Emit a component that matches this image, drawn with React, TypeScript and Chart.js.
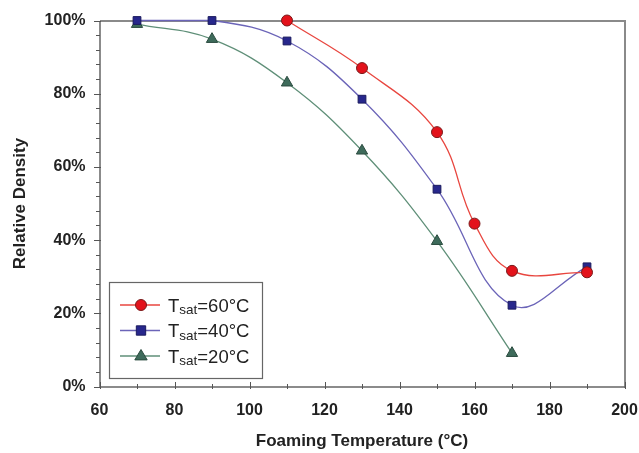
import React, { useEffect, useRef } from "react";
import { Chart, registerables } from "chart.js";

Chart.register(...registerables);

const temps60 = [110, 130, 150, 160, 170, 190];
const density60 = [100, 87, 69.5, 44.5, 31.6, 31.2];
const temps40 = [70, 90, 110, 130, 150, 170, 190];
const density40 = [100, 100, 94.4, 78.5, 53.9, 22.2, 32.7];
const temps20 = [70, 90, 110, 130, 150, 170];
const density20 = [99, 94.9, 83, 64.4, 39.7, 9.1];
const seriesLabels = ["60°C", "40°C", "20°C"];
const xTickValues = [60, 80, 100, 120, 140, 160, 180, 200];
const yTickValues = [0, 20, 40, 60, 80, 100];

const FONT = '"Liberation Sans", Arial, sans-serif';

const styles = [
  { line: "#e8463f", fill: "#e3121b", border: "#7a1a1a", shape: "circle", r: 5.5 },
  { line: "#6b64b8", fill: "#27278c", border: "#1a1a5e", shape: "rect", r: 5.5 },
  { line: "#5f8f78", fill: "#3e6b5b", border: "#2a4a3e", shape: "triangle", r: 6.5 },
];

function drawMarker(ctx: CanvasRenderingContext2D, shape: string, x: number, y: number, r: number, fill: string, border: string) {
  ctx.save();
  ctx.fillStyle = fill;
  ctx.strokeStyle = border;
  ctx.lineWidth = 1;
  ctx.beginPath();
  if (shape === "circle") {
    ctx.arc(x, y, r, 0, Math.PI * 2);
  } else if (shape === "rect") {
    ctx.rect(x - r * 0.85, y - r * 0.85, r * 1.7, r * 1.7);
  } else {
    ctx.moveTo(x, y - r);
    ctx.lineTo(x + r * 0.95, y + r * 0.6);
    ctx.lineTo(x - r * 0.95, y + r * 0.6);
    ctx.closePath();
  }
  ctx.fill();
  ctx.stroke();
  ctx.restore();
}

const framePlugin = {
  id: "frame",
  beforeDatasetsDraw(chart: any) {
    const { ctx, chartArea } = chart;
    const xs = chart.scales.x;
    const ys = chart.scales.y;
    const L = Math.round(chartArea.left);
    const R = Math.round(chartArea.right);
    const T = Math.round(chartArea.top);
    const B = Math.round(chartArea.bottom);
    ctx.save();
    ctx.lineWidth = 2;
    ctx.strokeStyle = "#8a8a8a";
    ctx.beginPath();
    ctx.moveTo(L, T);
    ctx.lineTo(R, T);
    ctx.moveTo(R, T - 1);
    ctx.lineTo(R, B + 1);
    ctx.stroke();
    ctx.strokeStyle = "#666";
    ctx.lineWidth = 1.5;
    ctx.beginPath();
    ctx.moveTo(L, T);
    ctx.lineTo(L, B);
    ctx.lineTo(R, B);
    ctx.stroke();
    ctx.lineWidth = 1;
    ctx.strokeStyle = "#555";
    ctx.beginPath();
    for (let v = 0; v <= 100; v += 4) {
      const y = Math.round(ys.getPixelForValue(v)) + 0.5;
      const major = v % 20 === 0;
      ctx.moveTo(L - (major ? 6 : 4), y);
      ctx.lineTo(L + (major ? 1 : 0), y);
    }
    for (let v = 60; v <= 200; v += 10) {
      const x = Math.round(xs.getPixelForValue(v)) + 0.5;
      const major = v % 20 === 0;
      ctx.moveTo(x, B + 2);
      ctx.lineTo(x, B - (major ? 5 : 3));
    }
    ctx.stroke();
    ctx.restore();
  },
  afterDraw(chart: any) {
    const { ctx } = chart;
    const left = 109.5, top = 282.5, w = 153, h = 96;
    ctx.save();
    ctx.fillStyle = "#fff";
    ctx.fillRect(left, top, w, h);
    ctx.strokeStyle = "#666";
    ctx.lineWidth = 1.2;
    ctx.strokeRect(left, top, w, h);
    const rows = [305, 330.5, 356];
    rows.forEach((ry, i) => {
      const s = styles[i];
      ctx.strokeStyle = s.line;
      ctx.lineWidth = 1.3;
      ctx.beginPath();
      ctx.moveTo(120, ry);
      ctx.lineTo(160, ry);
      ctx.stroke();
      drawMarker(ctx, s.shape, 141, ry, s.r, s.fill, s.border);
      ctx.fillStyle = "#222";
      ctx.textBaseline = "alphabetic";
      ctx.textAlign = "left";
      let x = 168;
      ctx.font = `18.5px ${FONT}`;
      ctx.fillText("T", x, ry + 6.5);
      x += ctx.measureText("T").width;
      ctx.font = `13.5px ${FONT}`;
      ctx.fillText("sat", x, ry + 9);
      x += ctx.measureText("sat").width;
      ctx.font = `18.5px ${FONT}`;
      ctx.fillText("=" + seriesLabels[i], x, ry + 6.5);
    });
    ctx.restore();
  },
};

function toPoints(xs: number[], ys: number[]) {
  return xs.map((x, i) => ({ x, y: ys[i] }));
}

export default function App() {
  const ref = useRef<HTMLCanvasElement | null>(null);
  useEffect(() => {
    if (!ref.current) return;
    const mk = (data: any[], i: number, label: string) => ({
      label,
      data,
      borderColor: styles[i].line,
      borderWidth: 1.3,
      backgroundColor: styles[i].fill,
      pointBackgroundColor: styles[i].fill,
      pointBorderColor: styles[i].border,
      pointBorderWidth: 1,
      pointStyle: styles[i].shape === "triangle" ? "triangle" : styles[i].shape === "rect" ? "rect" : "circle",
      pointRadius: styles[i].shape === "triangle" ? 6.5 : styles[i].shape === "rect" ? 5.5 : 5.5,
      tension: 0.4,
      fill: false,
      clip: false as any,
    });
    const chart = new Chart(ref.current, {
      type: "line",
      data: {
        datasets: [
          mk(toPoints(temps60, density60), 0, "Tsat=60°C"),
          mk(toPoints(temps40, density40), 1, "Tsat=40°C"),
          mk(toPoints(temps20, density20), 2, "Tsat=20°C"),
        ] as any,
      },
      options: {
        animation: false,
        responsive: false,
        maintainAspectRatio: false,
        layout: { padding: { top: 20.5, right: 14.5, left: 0, bottom: 0 } },
        plugins: { legend: { display: false }, tooltip: { enabled: false } },
        scales: {
          x: {
            type: "linear",
            min: 60,
            max: 200,
            grid: { display: false, drawTicks: false },
            border: { display: false },
            afterBuildTicks: (s: any) => {
              s.ticks = xTickValues.map((v) => ({ value: v }));
            },
            afterFit: (s: any) => {
              s.height = 66.5;
              s.paddingLeft = 0;
              s.paddingRight = 0;
            },
            ticks: {
              padding: 14,
              color: "#222",
              font: { family: FONT, size: 16, weight: "bold" },
              maxRotation: 0,
            },
            title: {
              display: true,
              text: "Foaming Temperature (°C)",
              color: "#222",
              font: { family: FONT, size: 17, weight: "bold" },
              padding: { top: 0, bottom: 1 },
            },
          },
          y: {
            type: "linear",
            min: 0,
            max: 100,
            grid: { display: false, drawTicks: false },
            border: { display: false },
            afterBuildTicks: (s: any) => {
              s.ticks = yTickValues.map((v) => ({ value: v }));
            },
            afterFit: (s: any) => {
              s.width = 99.5;
              s.paddingTop = 0;
              s.paddingBottom = 0;
            },
            ticks: {
              padding: 14,
              color: "#222",
              font: { family: FONT, size: 16, weight: "bold" },
              callback: (v: any) => v + "%",
            },
            title: {
              display: true,
              text: "Relative Density",
              color: "#222",
              font: { family: FONT, size: 17, weight: "bold" },
              padding: { top: 10, bottom: 0 },
            },
          },
        },
      },
      plugins: [framePlugin],
    });
    return () => chart.destroy();
  }, []);
  return (
    <div style={{ position: "fixed", left: 0, top: 0, width: 639, height: 453, background: "#fff" }}>
      <canvas ref={ref} width={639} height={453} style={{ width: 639, height: 453 }} />
    </div>
  );
}
